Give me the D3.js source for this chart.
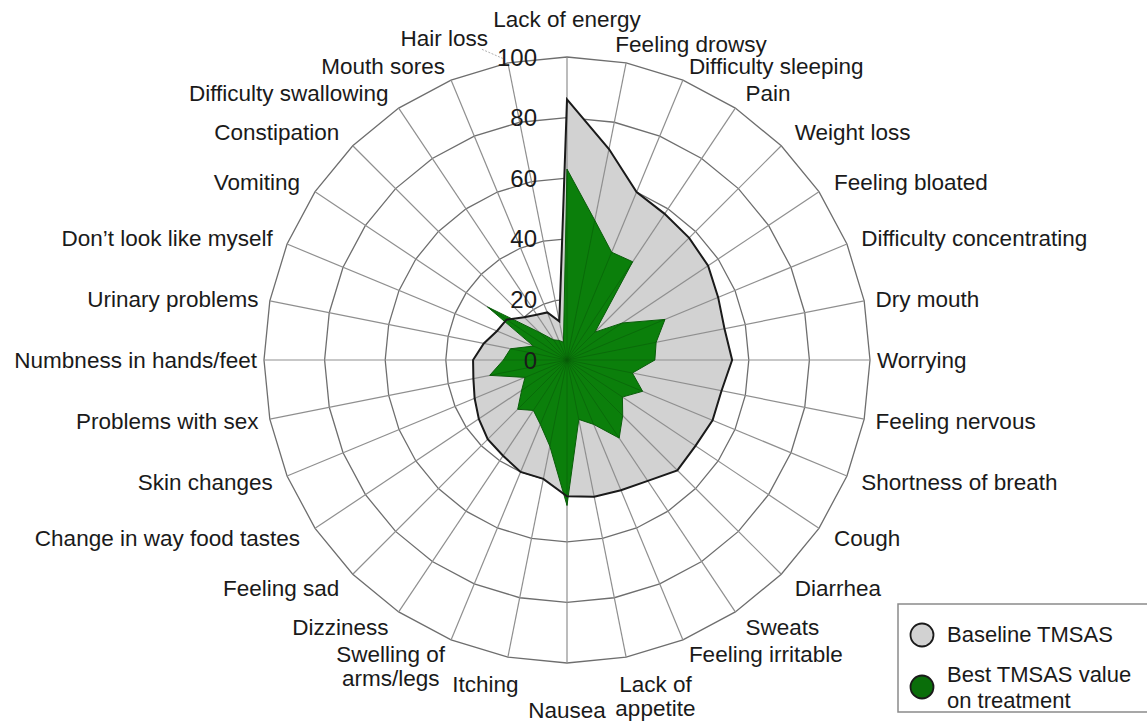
<!DOCTYPE html>
<html>
<head>
    <style>
        body { margin: 0; background: #fff; }
        svg { font-family: "Liberation Sans", Arial, sans-serif; }
        .cat { font-size: 22.5px; fill: #1a1a1a; }
        .tick { font-size: 24px; fill: #1a1a1a; }
        .leg { font-size: 22px; fill: #1a1a1a; }
    </style>
    <script src="https://d3js.org/d3.v7.min.js"></script>
</head>
<body>
    <div id="chart"></div>

    <script>
        var categories = [
            "Lack of energy", "Feeling drowsy", "Difficulty sleeping", "Pain",
            "Weight loss", "Feeling bloated", "Difficulty concentrating", "Dry mouth",
            "Worrying", "Feeling nervous", "Shortness of breath", "Cough",
            "Diarrhea", "Sweats", "Feeling irritable", "Lack of\nappetite",
            "Nausea", "Itching", "Swelling of\narms/legs", "Dizziness",
            "Feeling sad", "Change in way food tastes", "Skin changes", "Problems with sex",
            "Numbness in hands/feet", "Urinary problems", "Don\u2019t look like myself", "Vomiting",
            "Constipation", "Difficulty swallowing", "Mouth sores", "Hair loss"
        ];

        // Baseline TMSAS
        var baseline = [86, 71, 60, 58, 57, 56, 54, 53, 54.5, 52, 52, 51, 51.5, 48, 46.5, 46,
                        45, 40, 40, 38, 37, 35, 33, 31.5, 31, 28, 25, 24, 20, 18, 17, 13];
        // Best TMSAS value on treatment
        var best = [63, 47, 38.5, 39, 13, 22, 35, 30, 29, 22, 27, 22, 26, 31, 23, 20,
                    48, 29, 23, 20, 23, 18, 15, 26, 21, 19, 12, 31.5, 13, 8, 7, 6];

        var ticks = [0, 20, 40, 60, 80, 100];
        var legendLabels = ["Baseline TMSAS", "Best TMSAS value\non treatment"];

        var width = 1147, height = 722;
        var cx = 567, cy = 360, R = 303;
        var n = categories.length;
        var step = 2 * Math.PI / n;

        var svg = d3.select("#chart")
                    .append("svg")
                    .attr("width", width)
                    .attr("height", height);

        var r = d3.scaleLinear().domain([0, 100]).range([0, R]);

        var g = svg.append("g").attr("transform", "translate(" + cx + "," + cy + ")");

        var radial = d3.lineRadial()
            .angle(function(d, i) { return i * step; })
            .radius(function(d) { return r(d); })
            .curve(d3.curveLinearClosed);

        // rings
        g.selectAll(".ring")
            .data(ticks.slice(1))
            .enter()
            .append("path")
            .attr("d", function(t) { return radial(categories.map(function() { return t; })); })
            .attr("fill", "none")
            .attr("stroke", "#6e6e6e")
            .attr("stroke-width", 1.3);

        // baseline area
        g.append("path")
            .attr("d", radial(baseline))
            .attr("fill", "#d2d2d2");

        // spokes
        g.selectAll(".spoke")
            .data(categories)
            .enter()
            .append("line")
            .attr("x1", 0).attr("y1", 0)
            .attr("x2", function(d, i) { return r(100) * Math.sin(i * step); })
            .attr("y2", function(d, i) { return -r(100) * Math.cos(i * step); })
            .attr("stroke", "#8f8f8f")
            .attr("stroke-width", 1.2);

        // best on treatment area
        g.append("path")
            .attr("d", radial(best))
            .attr("fill", "#0b7f0b")
            .attr("stroke", "#0a5c0a")
            .attr("stroke-width", 1);

        g.selectAll(".gspoke")
            .data(best)
            .enter()
            .append("line")
            .attr("x1", 0).attr("y1", 0)
            .attr("x2", function(d, i) { return r(d) * Math.sin(i * step); })
            .attr("y2", function(d, i) { return -r(d) * Math.cos(i * step); })
            .attr("stroke", "#075a07")
            .attr("stroke-opacity", 0.6)
            .attr("stroke-width", 0.9);

        // baseline outline
        g.append("path")
            .attr("d", radial(baseline))
            .attr("fill", "none")
            .attr("stroke", "#1a1a1a")
            .attr("stroke-width", 2);

        // tick labels on top spoke
        var tickText = g.selectAll(".tick")
            .data(ticks)
            .enter()
            .append("text")
            .attr("class", "tick")
            .attr("x", -30)
            .attr("y", function(t) { return -r(t); })
            .attr("dy", "0.36em")
            .attr("text-anchor", "end")
            .text(function(t) { return t; });

        // category labels
        var topTick = tickText.filter(function(t) { return t === 100; }).node().getBBox();

        g.selectAll(".cat")
            .data(categories)
            .enter()
            .append("text")
            .attr("class", "cat")
            .each(function(d, i) {
                var a = i * step, s = Math.sin(a), c = Math.cos(a);
                var rl = R + 7 + 12 * Math.abs(Math.sin(2 * a));
                var x = rl * s, y = -rl * c;
                if (c > 0.99) y -= 31;
                else if (c > 0.97) y -= 7;
                else if (c < -0.99) y += 40;
                else if (c < -0.97) y += 16;
                // labels just off the vertical sit a little toward the axis
                if (Math.abs(s) > 0.1 && Math.abs(s) < 0.25) x -= (s > 0 ? 13 : -13);
                var anchor = s > 0.1 ? "start" : (s < -0.1 ? "end" : "middle");
                var lines = d.split("\n");
                var el = d3.select(this);
                var spans = lines.map(function(line, k) {
                    return el.append("tspan")
                        .attr("y", y + k * 24)
                        .attr("dy", "0.35em")
                        .text(line);
                });
                if (lines.length === 1) {
                    el.attr("text-anchor", anchor);
                    spans[0].attr("x", x);
                } else {
                    // centre the lines of a wrapped label within its block
                    var w = d3.max(spans, function(sp) { return sp.node().getComputedTextLength(); });
                    var mid = anchor === "start" ? x + w / 2 : (anchor === "end" ? x - w / 2 : x);
                    el.attr("text-anchor", "middle");
                    spans.forEach(function(sp) { sp.attr("x", mid); });
                }

                // move a label off the "100" tick label and tie it back with a leader
                var b = this.getBBox();
                var hit = b.x < topTick.x + topTick.width && b.x + b.width > topTick.x &&
                          b.y < topTick.y + topTick.height && b.y + b.height > topTick.y;
                if (hit) {
                    var dx = topTick.x - 9 - (b.x + b.width);
                    spans.forEach(function(sp) {
                        sp.attr("x", +sp.attr("x") + dx).attr("y", +sp.attr("y") - 6);
                    });
                    var b2 = this.getBBox();
                    g.append("line")
                        .attr("x1", b2.x + b2.width - 6).attr("y1", b2.y + b2.height - 2)
                        .attr("x2", topTick.x + 6).attr("y2", topTick.y + topTick.height * 0.55)
                        .attr("stroke", "#b0b0b0")
                        .attr("stroke-width", 1)
                        .attr("stroke-dasharray", "2,1.5");
                }
            });

        // legend
        var lg = svg.append("g").attr("transform", "translate(898,604)");
        lg.append("rect")
            .attr("x", 0).attr("y", 0)
            .attr("width", 270).attr("height", 108)
            .attr("fill", "#fff")
            .attr("stroke", "#8a8a8a")
            .attr("stroke-width", 1.5);

        var legFill = ["#d2d2d2", "#0a6e0a"];
        var item = lg.selectAll(".item")
            .data(legendLabels)
            .enter()
            .append("g")
            .attr("transform", function(d, i) { return "translate(0," + (i * 52) + ")"; });

        item.append("circle")
            .attr("cx", 24).attr("cy", 31)
            .attr("r", 11.5)
            .attr("fill", function(d, i) { return legFill[i]; })
            .attr("stroke", "#1a1a1a")
            .attr("stroke-width", 1.8);

        item.append("text")
            .attr("class", "leg")
            .each(function(d, i) {
                var el = d3.select(this);
                var lines = d.split("\n");
                lines.forEach(function(line, k) {
                    el.append("tspan")
                        .attr("x", 49)
                        .attr("y", (lines.length > 1 ? 26 : 38) + k * 26)
                        .text(line);
                });
            });
    </script>
</body>
</html>
